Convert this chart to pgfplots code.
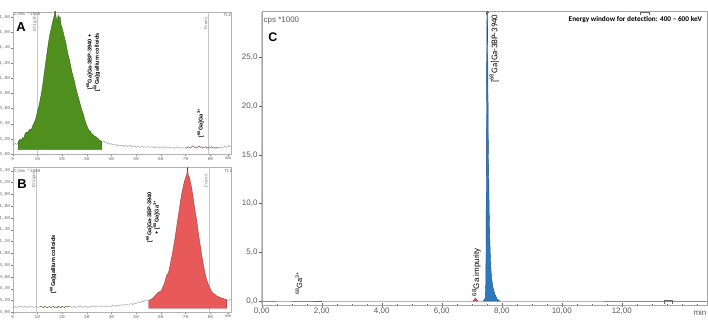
\documentclass[border=0pt]{standalone}
\usepackage{pgfplots}
\pgfplotsset{compat=1.18}
\usepackage{fontspec}
\setmainfont{Liberation Sans}
\newfontfamily\monof{Liberation Mono}
\newfontfamily\carl{Carlito}
\definecolor{gfill}{HTML}{4F8F1E}
\definecolor{gedge}{HTML}{2B5210}
\definecolor{rfill}{HTML}{E85A5A}
\definecolor{redge}{HTML}{8E2A2A}
\definecolor{bfill}{HTML}{2F78BE}
\definecolor{bedge}{HTML}{1E4F80}
\definecolor{trace}{HTML}{8C8C8C}
\pgfplotsset{
  tlcaxis/.style={
    scale only axis, anchor=south west,
    xmin=0, xmax=88.4,
    axis line style={draw=black!30},
    tick style={draw=black!50, line width=0.3pt},
    tick align=outside, major tick length=1.8bp, minor tick length=1.1bp,
    xtick={0,10,20,30,40,50,60,70,80,87.2},
    xticklabels={0,10,20,30,40,50,60,70,80,mm},
    minor xtick={5,15,25,35,45,55,65,75,85},
    xtick pos=bottom, ytick pos=left,
    tick label style={font=\monof\fontsize{4.5}{5}\selectfont, text=black!60},
    xticklabel style={inner sep=0.8bp},
    yticklabel style={inner sep=0.6bp},
  }
}
\begin{document}
\begin{tikzpicture}
\path[use as bounding box] (0,0) rectangle (708bp,330bp);

% ---------------- Panel A ----------------
\begin{axis}[tlcaxis, at={(12.7bp,175.7bp)}, width=218.3bp, height=142.3bp,
  ymin=0, ymax=1.87,
  ytick={0,0.2,0.4,0.6,0.8,1.0,1.2,1.4,1.6,1.8},
  yticklabels={{0,00},{0,20},{0,40},{0,60},{0,80},{1,00},{1,20},{1,40},{1,60},{1,80}}]
\draw[black!22, line width=0.5pt] (axis cs:10,0) -- (axis cs:10,1.87);
\draw[black!22, line width=0.5pt] (axis cs:79.3,0) -- (axis cs:79.3,1.87);
\addplot[trace, line width=0.3pt] coordinates {(0,0.14)(0.5,0.12)(1,0.15)(1.5,0.13)(2,0.14)(2.3,0.17)};
\addplot[trace, line width=0.3pt] coordinates {
(36,0.17)(36.5,0.16)(37,0.17)(37.5,0.15)(38,0.16)(38.5,0.14)(39,0.15)(39.5,0.13)(40,0.14)(40.5,0.12)
(41,0.13)(41.5,0.12)(42,0.13)(42.5,0.11)(43,0.12)(43.5,0.12)(44,0.11)(44.5,0.12)(45,0.10)(45.5,0.12)
(46,0.11)(46.5,0.10)(47,0.11)(47.5,0.12)(48,0.10)(48.5,0.11)(49,0.10)(49.5,0.11)(50,0.09)(50.5,0.11)
(51,0.10)(51.5,0.09)(52,0.10)(52.5,0.11)(53,0.09)(53.5,0.10)(54,0.09)(54.5,0.10)(55,0.11)(55.5,0.09)
(56,0.10)(56.5,0.09)(57,0.10)(57.5,0.08)(58,0.10)(58.5,0.09)(59,0.10)(59.5,0.08)(60,0.09)(60.5,0.10)
(61,0.08)(61.5,0.09)(62,0.10)(62.5,0.08)(63,0.09)(63.5,0.08)(64,0.10)(64.5,0.09)(65,0.08)(65.5,0.09)
(66,0.08)(66.5,0.09)(67,0.10)(67.5,0.08)(68,0.09)(68.5,0.08)(69,0.09)(69.5,0.08)(70,0.09)};
\addplot[trace, line width=0.3pt] coordinates {(84,0.09)(84.5,0.08)(85,0.10)(85.5,0.09)(86,0.11)(86.5,0.09)(87,0.10)(87.5,0.12)(88,0.10)(88.4,0.11)};
\addplot[redge, line width=0.4pt] coordinates {
(70,0.09)(70.5,0.08)(71,0.10)(71.5,0.09)(72,0.08)(72.5,0.10)(73,0.11)(73.5,0.09)(74,0.10)(74.5,0.08)
(75,0.09)(75.5,0.11)(76,0.09)(76.5,0.10)(77,0.08)(77.5,0.09)(78,0.10)(78.5,0.08)(79,0.09)(79.5,0.08)
(80,0.09)(80.5,0.10)(81,0.08)(81.5,0.09)(82,0.08)(82.5,0.09)(83,0.08)(83.5,0.09)(84,0.09)};
\addplot[draw=gedge, fill=gfill, line width=0.3pt] coordinates {
(2.3,0.06)(2.3,0.17)(3,0.20)(3.5,0.18)(4,0.22)(4.5,0.21)(5,0.27)(5.5,0.29)(6,0.28)(6.5,0.31)(7,0.33)
(7.5,0.32)(8,0.37)(8.5,0.40)(9,0.44)(9.5,0.49)(10,0.56)(10.5,0.62)(11,0.70)(11.5,0.78)(12,0.88)
(12.5,1.00)(13,1.12)(13.5,1.24)(14,1.36)(14.5,1.47)(15,1.57)(15.5,1.64)(16,1.72)(16.5,1.78)(17,1.86)
(17.3,1.90)(17.6,1.80)(18,1.74)(18.4,1.83)(18.8,1.78)(19.2,1.81)(19.6,1.70)(20,1.66)(20.5,1.60)
(21,1.53)(21.5,1.47)(22,1.38)(22.5,1.30)(23,1.24)(23.5,1.16)(24,1.08)(24.5,1.02)(25,0.96)(25.5,0.88)
(26,0.82)(26.5,0.76)(27,0.70)(27.5,0.64)(28,0.58)(28.5,0.54)(29,0.48)(29.5,0.42)(30,0.38)(30.5,0.34)
(31,0.31)(31.5,0.30)(32,0.27)(32.5,0.26)(33,0.24)(33.5,0.24)(34,0.22)(34.5,0.21)(35,0.19)(35.5,0.18)
(36,0.17)(36,0.06)} -- cycle;
\node[font=\bfseries\fontsize{13}{13}\selectfont] at (axis cs:3.4,1.67) {A};
\node[anchor=west, inner sep=0, font=\monof\fontsize{4.4}{5}\selectfont, text=black!60] at (axis cs:0.5,1.845) {C/mm *1000};
\node[rotate=90, inner sep=0, font=\monof\fontsize{4.4}{5}\selectfont, text=black!60] at (axis cs:8.9,1.72) {Origin};
\node[rotate=90, inner sep=0, font=\monof\fontsize{4.4}{5}\selectfont, text=black!60] at (axis cs:78.2,1.72) {Front};
\node[inner sep=0, font=\monof\fontsize{4.4}{5}\selectfont, text=black!60] at (axis cs:87.0,1.83) {TLC};
\node[rotate=90, align=center, inner sep=0, font=\bfseries\fontsize{5.6}{6}\selectfont] at (axis cs:32.6,1.21) {[\textsuperscript{68}Ga]Ga-3BP-3940 +\\{}[\textsuperscript{68}Ga]gallium colloids};
\node[rotate=90, anchor=west, inner sep=0, font=\bfseries\fontsize{5.6}{6}\selectfont] at (axis cs:76.1,0.22) {[\textsuperscript{68}Ga]Ga\textsuperscript{3+}};
\end{axis}

% ---------------- Panel B ----------------
\begin{axis}[tlcaxis, at={(12.7bp,17.7bp)}, width=218.3bp, height=145bp,
  ymin=0, ymax=2.46,
  ytick={0,0.2,0.4,0.6,0.8,1.0,1.2,1.4,1.6,1.8,2.0,2.2,2.4},
  yticklabels={{0,00},{0,20},{0,40},{0,60},{0,80},{1,00},{1,20},{1,40},{1,60},{1,80},{2,00},{2,20},{2,40}}]
\draw[black!22, line width=0.5pt] (axis cs:9.6,0) -- (axis cs:9.6,2.46);
\draw[black!22, line width=0.5pt] (axis cs:79.5,0) -- (axis cs:79.5,2.46);
\addplot[trace, line width=0.3pt] coordinates {
(0,0.09)(0.5,0.08)(1,0.10)(1.5,0.09)(2,0.08)(2.5,0.10)(3,0.09)(3.5,0.11)(4,0.09)(4.5,0.08)(5,0.10)
(5.5,0.09)(6,0.08)(6.5,0.10)(7,0.09)(7.5,0.11)(8,0.10)(8.5,0.08)(9,0.09)(9.5,0.10)(10,0.09)(10.5,0.08)(11,0.10)};
\addplot[gedge, line width=0.45pt] coordinates {
(11,0.09)(11.5,0.10)(12,0.09)(12.5,0.08)(13,0.10)(13.5,0.09)(14,0.08)(14.5,0.09)(15,0.10)(15.5,0.08)
(16,0.09)(16.5,0.10)(17,0.08)(17.5,0.09)(18,0.08)(18.5,0.10)(19,0.09)(19.5,0.08)(20,0.10)(20.5,0.09)
(21,0.08)(21.5,0.10)(22,0.09)(22.5,0.10)(23,0.09)};
\addplot[trace, line width=0.3pt] coordinates {
(23,0.09)(23.5,0.10)(24,0.08)(24.5,0.09)(25,0.10)(25.5,0.08)(26,0.09)(26.5,0.10)(27,0.09)(27.5,0.11)
(28,0.09)(28.5,0.08)(29,0.10)(29.5,0.09)(30,0.10)(30.5,0.08)(31,0.09)(31.5,0.10)(32,0.09)(32.5,0.10)
(33,0.11)(33.5,0.09)(34,0.10)(34.5,0.09)(35,0.10)(35.5,0.11)(36,0.09)(36.5,0.10)(37,0.11)(37.5,0.10)
(38,0.09)(38.5,0.11)(39,0.10)(39.5,0.11)(40,0.10)(40.5,0.12)(41,0.11)(41.5,0.10)(42,0.12)(42.5,0.11)
(43,0.12)(43.5,0.11)(44,0.13)(44.5,0.12)(45,0.13)(45.5,0.12)(46,0.14)(46.5,0.13)(47,0.12)(47.5,0.14)
(48,0.15)(48.5,0.13)(49,0.15)(49.5,0.16)(50,0.14)(50.5,0.16)(51,0.18)(51.5,0.16)(52,0.17)(52.5,0.19)
(53,0.18)(53.5,0.20)(54,0.19)(54.5,0.21)(55.1,0.20)};
\addplot[trace, line width=0.3pt] coordinates {(86.7,0.20)(87,0.21)(87.5,0.19)(88,0.22)(88.4,0.20)};
\addplot[draw=redge, fill=rfill, line width=0.3pt] coordinates {
(55.1,0.07)(55.1,0.20)(56,0.22)(57,0.25)(58,0.30)(59,0.34)(60,0.36)(60.5,0.40)(61,0.44)(61.5,0.50)
(62,0.58)(62.5,0.64)(63,0.66)(63.5,0.75)(64,0.86)(64.5,0.96)(65,1.08)(65.5,1.20)(66,1.34)(66.5,1.48)
(67,1.62)(67.5,1.76)(68,1.90)(68.5,2.02)(69,2.12)(69.5,2.22)(70,2.28)(70.5,2.34)(70.8,2.47)(71.1,2.32)
(71.5,2.30)(72,2.20)(72.5,2.10)(73,1.96)(73.5,1.82)(74,1.68)(74.5,1.56)(75,1.40)(75.5,1.26)(76,1.12)
(76.5,0.98)(77,0.86)(77.5,0.74)(78,0.64)(78.5,0.56)(79,0.50)(79.5,0.44)(80,0.40)(80.5,0.36)(81,0.33)
(81.5,0.31)(82,0.30)(82.5,0.28)(83,0.27)(83.5,0.26)(84,0.25)(84.5,0.24)(85,0.24)(85.5,0.23)(86,0.22)
(86.5,0.22)(86.7,0.20)(86.7,0.07)} -- cycle;
\node[font=\bfseries\fontsize{13}{13}\selectfont] at (axis cs:3.8,2.18) {B};
\node[anchor=west, inner sep=0, font=\monof\fontsize{4.4}{5}\selectfont, text=black!60] at (axis cs:0.5,2.40) {C/mm *1000};
\node[rotate=90, inner sep=0, font=\monof\fontsize{4.4}{5}\selectfont, text=black!60] at (axis cs:8.6,2.25) {Origin};
\node[rotate=90, inner sep=0, font=\monof\fontsize{4.4}{5}\selectfont, text=black!60] at (axis cs:78.3,2.23) {Front};
\node[inner sep=0, font=\monof\fontsize{4.4}{5}\selectfont, text=black!60] at (axis cs:87.4,2.40) {TLC};
\node[rotate=90, anchor=west, inner sep=0, font=\bfseries\fontsize{5.6}{6}\selectfont] at (axis cs:16.4,0.32) {[\textsuperscript{68}Ga]gallium colloids};
\node[rotate=90, align=center, inner sep=0, font=\bfseries\fontsize{5.6}{6}\selectfont] at (axis cs:56.8,1.61) {[\textsuperscript{68}Ga]Ga-3BP-3940\\+ [\textsuperscript{68}Ga]Ga\textsuperscript{3+}};
\end{axis}

% ---------------- Panel C ----------------
\begin{axis}[at={(261.7bp,25bp)}, anchor=south west, scale only axis,
  width=445bp, height=293.3bp,
  xmin=0, xmax=14.83, ymin=-0.41, ymax=29.7,
  axis line style={draw=black!35},
  tick style={draw=black!60, line width=0.4pt},
  xtick pos=bottom, ytick pos=left,
  xtick={0,2,4,6,8,10,12},
  xticklabels={{0,00},{2,00},{4,00},{6,00},{8,00},{10,00},{12,00}},
  minor xtick={0.5,1,1.5,2.5,3,3.5,4.5,5,5.5,6.5,7,7.5,8.5,9,9.5,10.5,11,11.5,12.5,13,13.5,14,14.5},
  xtick align=center, ytick align=outside,
  major tick length=3.2bp, minor tick length=2.5bp,
  ytick={0,5,10,15,20,25},
  yticklabels={{0,0},{5,0},{10,0},{15,0},{20,0},{25,0}},
  tick label style={font=\fontsize{8}{9}\selectfont, text=black!65},
  yticklabel style={inner sep=0.8bp},
  xticklabel style={inner sep=1.5bp}]
\draw[black!60, line width=0.5pt] (rel axis cs:0,0) -- (rel axis cs:0,1);
\addplot[trace, line width=0.5pt] coordinates {(0,0)(1.0,0)(2.0,0)(7.05,0)(7.2,0)(7.38,0)(7.95,0)(14.83,0)};
\addplot[black!60, line width=0.8pt] coordinates {(1.0,0)(1.5,0)(2.0,0)};
\addplot[draw=redge, fill=rfill, line width=0.4pt] coordinates {(7.04,0)(7.08,0.15)(7.12,0.28)(7.16,0.18)(7.20,0)} -- cycle;
\addplot[draw=bedge, fill=bfill, line width=0.4pt] coordinates {
(7.38,0)(7.42,0.1)(7.45,0.4)(7.47,2.0)(7.48,8)(7.49,18)(7.50,26)(7.51,30.5)(7.52,30.5)(7.53,27)
(7.54,22)(7.55,17)(7.56,14)(7.58,9.5)(7.60,6.5)(7.63,3.7)(7.66,2.4)(7.70,1.5)(7.75,0.9)(7.80,0.5)
(7.85,0.2)(7.90,0.05)(7.95,0)} -- cycle;
\draw[black!60, line width=0.5pt] (axis cs:13.4,-0.3) -- (axis cs:13.4,0.12) -- (axis cs:13.68,0.12) -- (axis cs:13.68,-0.3);
\draw[black!60, line width=0.5pt] (axis cs:12.62,29.35) -- (axis cs:12.62,29.6) -- (axis cs:12.9,29.6) -- (axis cs:12.9,29.35);
\draw[black!60, line width=0.5pt] (axis cs:7.47,29.35) -- (axis cs:7.47,29.6) -- (axis cs:7.58,29.6);
\node[anchor=west, inner sep=0, font=\fontsize{8}{9}\selectfont, text=black!65] at (axis cs:0.06,28.75) {cps *1000};
\node[font=\bfseries\fontsize{12.5}{13}\selectfont] at (axis cs:0.37,27.1) {C};
\node[anchor=east, inner sep=0, font=\carl\bfseries\fontsize{7.3}{8}\selectfont] at (axis cs:14.68,28.85) {Energy window for detection: 400 – 600 keV};
\node[rotate=90, inner sep=0, font=\carl\fontsize{8.8}{10}\selectfont] at (axis cs:7.74,25.9) {[\textsuperscript{68}Ga]Ga-3BP-3940};
\node[rotate=90, inner sep=0, font=\fontsize{8}{9}\selectfont] at (axis cs:7.16,2.95) {\textsuperscript{68}Ga impurity};
\node[rotate=90, inner sep=0, font=\fontsize{7.5}{8}\selectfont] at (axis cs:1.24,1.85) {\textsuperscript{68}Ga\textsuperscript{3+}};
\end{axis}
\node[inner sep=0, font=\fontsize{8}{9}\selectfont, text=black!65] at (700bp,17bp) {min};
\end{tikzpicture}
\end{document}
